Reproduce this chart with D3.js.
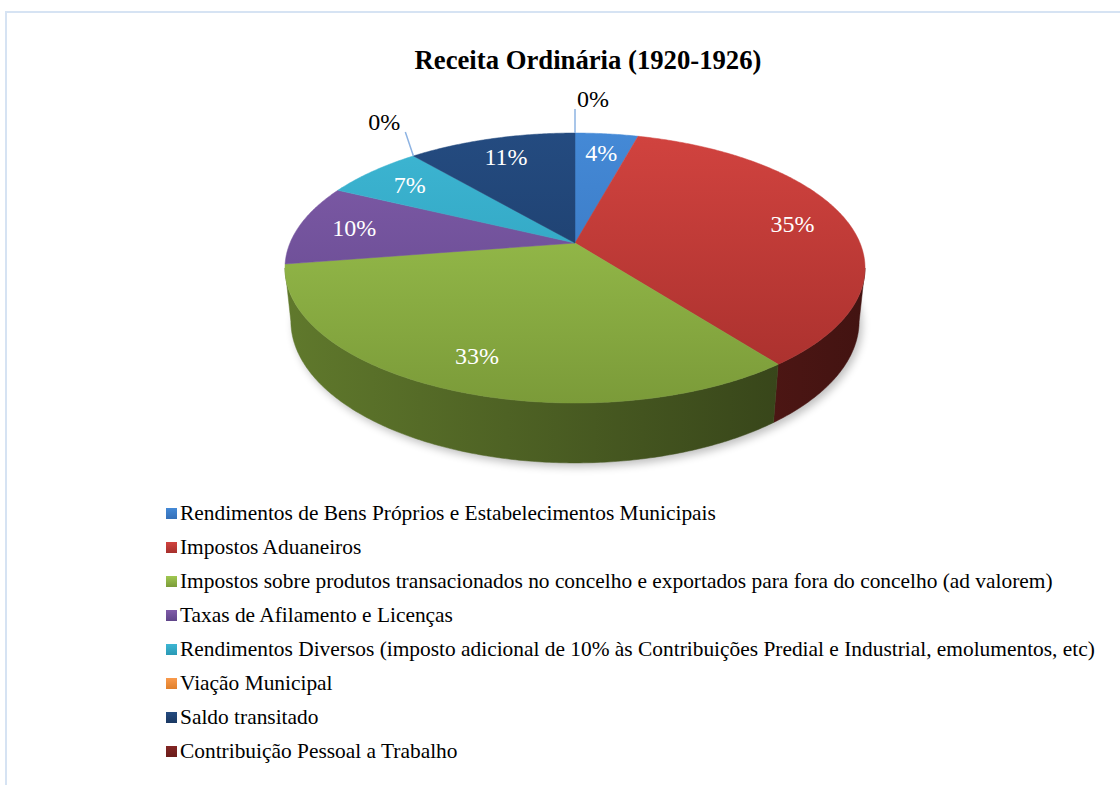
<!DOCTYPE html>
<html>
<head>
<meta charset="utf-8">
<script src="https://cdn.jsdelivr.net/npm/d3@7"></script>
<style>
  body { margin: 0; background: #fff; }
  svg { display: block; }
  text { font-family: "Liberation Serif", "Times New Roman", serif; }
</style>
</head>
<body>
<svg id="chart" width="1120" height="785"></svg>
<script>
// data
const categories = [
  "Rendimentos de Bens Próprios e Estabelecimentos Municipais",
  "Impostos Aduaneiros",
  "Impostos sobre produtos transacionados no concelho e exportados para fora do concelho (ad valorem)",
  "Taxas de Afilamento e Licenças",
  "Rendimentos Diversos (imposto adicional de 10% às Contribuições Predial e Industrial, emolumentos, etc)",
  "Viação Municipal",
  "Saldo transitado",
  "Contribuição Pessoal a Trabalho"
];
const values = [4.2, 35.4, 32.9, 9.7, 6.6, 0, 11.2, 0];

const topLight = ["#4489d6", "#d1433f", "#a0c851", "#805ca9", "#3db6d3", "#f99a4c", "#244b80", "#832624"];
const topDark  = ["#3570b8", "#a62f2c", "#7b9b39", "#5f4589", "#2a99b5", "#e07f2a", "#1a3862", "#6a1c1a"];

const svg = d3.select("#chart");
const defs = svg.append("defs");

// frame
svg.append("rect")
  .attr("x", 6).attr("y", 12)
  .attr("width", 1300).attr("height", 900)
  .attr("fill", "none")
  .attr("stroke", "#d6e3f3")
  .attr("stroke-width", 2);

// title
svg.append("text")
  .attr("x", 588).attr("y", 69)
  .attr("text-anchor", "middle")
  .attr("font-weight", "bold")
  .attr("font-size", 26.7)
  .attr("fill", "#000")
  .text("Receita Ordinária (1920-1926)");

// 3d projection of the pie disc
const cx = 575, cy = 243, k = 1368, D = 4.8, depth = 0.21;
const sT = 0.4574, cT = Math.sqrt(1 - sT * sT);

function proj(r, t, h) {
  const a = r * Math.sin(t), b = -r * Math.cos(t);
  const Z = D - b * cT + h * sT;
  return [cx + k * a / Z, cy + k * (b * sT + h * cT) / Z];
}

function samples(t0, t1) {
  const n = Math.max(2, Math.ceil(Math.abs(t1 - t0) / 0.01));
  return d3.range(n + 1).map(i => t0 + (t1 - t0) * i / n);
}

const line = d3.line();
const pie = d3.pie().sort(null).value(d => d);
const arcs = pie(values);

// gradients
arcs.forEach((d, i) => {
  const g = defs.append("linearGradient")
    .attr("id", "top" + i)
    .attr("gradientUnits", "userSpaceOnUse")
    .attr("x1", 0).attr("y1", 133).attr("x2", 0).attr("y2", 403);
  g.append("stop").attr("offset", 0).attr("stop-color", topLight[i]);
  g.append("stop").attr("offset", 1).attr("stop-color", topDark[i]);

  const s = defs.append("linearGradient")
    .attr("id", "side" + i)
    .attr("gradientUnits", "userSpaceOnUse")
    .attr("x1", 285).attr("y1", 0).attr("x2", 865).attr("y2", 0);
  s.append("stop").attr("offset", 0).attr("stop-color", d3.color(topDark[i]).darker(0.7));
  s.append("stop").attr("offset", 1).attr("stop-color", d3.color(topDark[i]).darker(2.6));

  const l = defs.append("linearGradient")
    .attr("id", "leg" + i)
    .attr("x1", 0).attr("y1", 0).attr("x2", 0).attr("y2", 1);
  l.append("stop").attr("offset", 0).attr("stop-color", topLight[i]);
  l.append("stop").attr("offset", 1).attr("stop-color", topDark[i]);
});

const blur = defs.append("filter").attr("id", "shadow")
  .attr("x", "-10%").attr("y", "-10%").attr("width", "120%").attr("height", "130%");
blur.append("feGaussianBlur").attr("stdDeviation", 4);

// shadow under the pie
const all = samples(0, 2 * Math.PI);
svg.append("path")
  .attr("d", line(all.map(t => proj(1, t, depth))) + "Z")
  .attr("transform", "translate(3,4)")
  .attr("fill", "#000")
  .attr("opacity", 0.25)
  .attr("filter", "url(#shadow)");

// visible outer wall range (front side)
const tR = Math.acos(-cT / D), tL = 2 * Math.PI - tR;

const walls = svg.append("g");
arcs.forEach((d, i) => {
  const t0 = Math.max(d.startAngle, tR), t1 = Math.min(d.endAngle, tL);
  if (t1 <= t0) return;
  const ts = samples(t0, t1);
  const pts = ts.map(t => proj(1, t, 0))
    .concat(ts.slice().reverse().map(t => proj(1, t, depth)));
  walls.append("path")
    .attr("d", line(pts) + "Z")
    .attr("fill", `url(#side${i})`)
    .attr("stroke", `url(#side${i})`)
    .attr("stroke-width", 0.5);
});

const tops = svg.append("g");
arcs.forEach((d, i) => {
  if (d.endAngle - d.startAngle <= 0) return;
  const pts = [proj(0, 0, 0)].concat(samples(d.startAngle, d.endAngle).map(t => proj(1, t, 0)));
  tops.append("path")
    .attr("d", line(pts) + "Z")
    .attr("fill", `url(#top${i})`)
    .attr("stroke", `url(#top${i})`)
    .attr("stroke-width", 0.5);
});

// data labels
const total = d3.sum(values);
const labels = svg.append("g").attr("font-size", 24);
arcs.forEach((d, i) => {
  const txt = Math.round(d.value / total * 100) + "%";
  const mid = (d.startAngle + d.endAngle) / 2;
  if (d.value > 0) {
    const p = proj(0.8, mid, 0);
    labels.append("text")
      .attr("x", p[0]).attr("y", p[1])
      .attr("dy", "0.35em")
      .attr("text-anchor", "middle")
      .attr("fill", "#fff")
      .text(txt);
  } else {
    const p = proj(1, mid, 0);
    const q = [p[0] + (p[0] - cx) * 0.05, p[1] - 24];
    labels.append("line")
      .attr("x1", p[0]).attr("y1", p[1])
      .attr("x2", q[0]).attr("y2", q[1])
      .attr("stroke", "#8db3e2")
      .attr("stroke-width", 1.5);
    const right = p[0] >= cx - 5;
    labels.append("text")
      .attr("x", right ? q[0] + 2 : q[0] - 5)
      .attr("y", q[1] - 2)
      .attr("text-anchor", right ? "start" : "end")
      .attr("fill", "#000")
      .text(txt);
  }
});

// legend
const legend = svg.append("g").attr("font-size", 21.4);
categories.forEach((c, i) => {
  const y = 520 + i * 34;
  legend.append("rect")
    .attr("x", 166).attr("y", y - 12)
    .attr("width", 11).attr("height", 11)
    .attr("fill", `url(#leg${i})`);
  legend.append("text")
    .attr("x", 180).attr("y", y)
    .attr("fill", "#000")
    .text(c);
});
</script>
</body>
</html>
